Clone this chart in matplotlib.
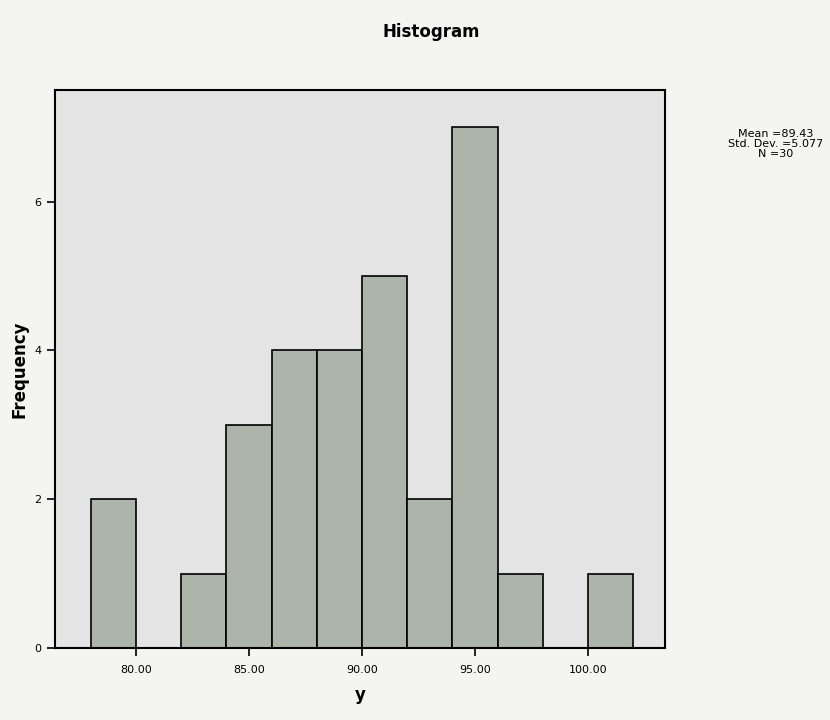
import matplotlib
matplotlib.use("Agg")
import matplotlib.pyplot as plt
import numpy as np

# histogram of y, bin width 2
bin_edges = [78, 80, 82, 84, 86, 88, 90, 92, 94, 96, 98, 100, 102]
counts = [2, 0, 1, 3, 4, 4, 5, 2, 7, 1, 0, 1]
x_ticks = [80, 85, 90, 95, 100]
x_labels = ["80.00", "85.00", "90.00", "95.00", "100.00"]
y_ticks = [0, 2, 4, 6]
stats_text = "Mean =89.43\nStd. Dev. =5.077\nN =30"

fig = plt.figure(figsize=(8.3, 7.2), dpi=100)
fig.patch.set_facecolor("#f4f4f2")
ax = fig.add_axes([0.066, 0.10, 0.735, 0.775])
ax.set_facecolor("#e4e4e4")

left = np.array(bin_edges[:-1])
width = np.diff(bin_edges)
ax.bar(left, counts, width=width, align="edge", color="#adb5aa",
       edgecolor="black", linewidth=1.2)

ax.set_xlim(76.4, 103.4)
ax.set_ylim(0, 7.5)
ax.set_xticks(x_ticks)
ax.set_xticklabels(x_labels, fontsize=8)
ax.set_yticks(y_ticks)
ax.set_yticklabels([str(v) for v in y_ticks], fontsize=8)
ax.tick_params(direction="out", length=6, width=1.2)
ax.tick_params(axis="x", pad=6)
for s in ax.spines.values():
    s.set_linewidth(1.5)

ax.set_xlabel("y", fontsize=12, fontweight="bold", labelpad=8)
ax.set_ylabel("Frequency", fontsize=12, fontweight="bold", labelpad=4)

fig.text(0.52, 0.955, "Histogram", ha="center", va="center",
         fontsize=12, fontweight="bold")
fig.text(0.935, 0.80, stats_text, ha="center", va="center",
         fontsize=8, linespacing=1.0)

fig.savefig("out.png", dpi=100, facecolor=fig.get_facecolor())
